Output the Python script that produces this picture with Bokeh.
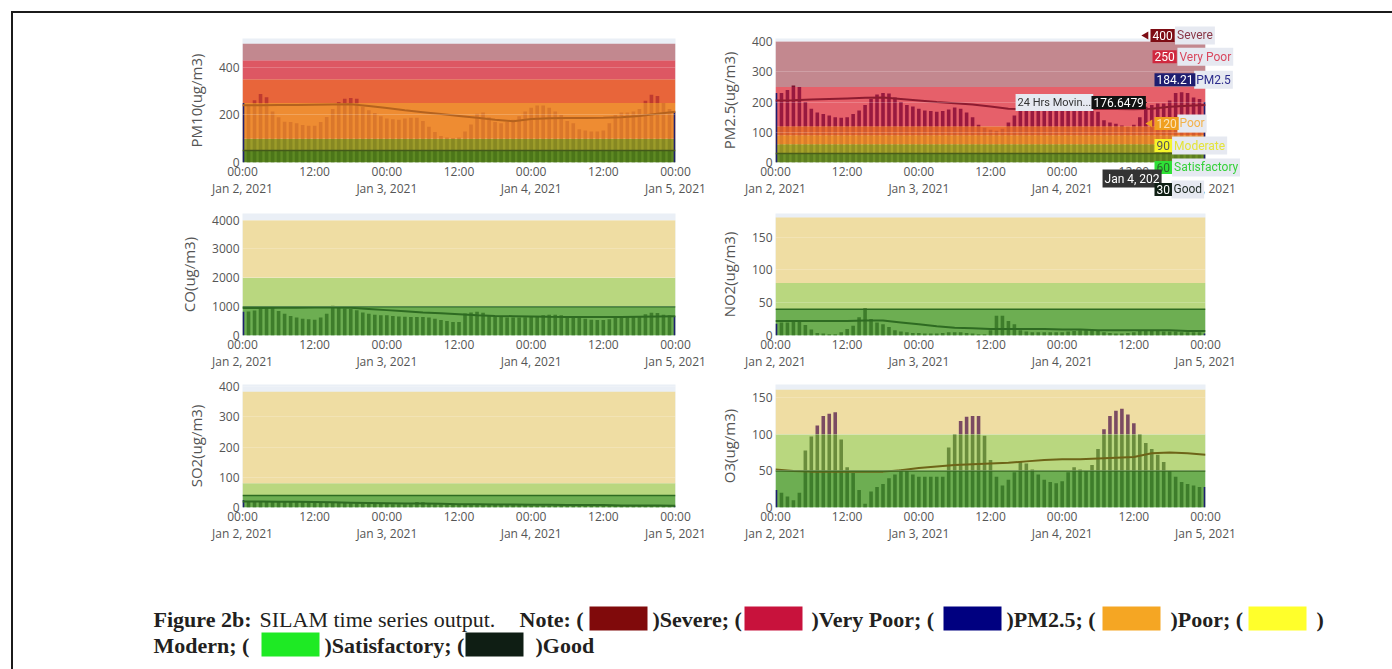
import numpy as np
import pandas as pd
from bokeh.plotting import figure
from bokeh.models import Range1d, FixedTicker, Label, Span, Div, Spacer
from bokeh.layouts import column, row
from bokeh.embed import file_html
from bokeh.resources import INLINE
from bokeh.core.properties import value

# ---------------- data ----------------
hours = pd.date_range("2021-01-02 00:00", "2021-01-05 00:00", freq="h")   # hourly values
ma_hours = hours[::3]                                                    # 24h moving average samples

pm10 = [250, 245, 262, 288, 275, 215, 190, 172, 170, 165, 158, 155,
        155, 170, 192, 225, 255, 268, 272, 268, 235, 220, 208, 195,
        185, 182, 180, 185, 188, 188, 175, 150, 128, 112, 105, 103,
        105, 130, 160, 205, 210, 190, 170, 165, 170, 180, 195, 215,
        230, 240, 240, 230, 215, 200, 175, 165, 140, 135, 130, 130,
        135, 165, 200, 210, 210, 215, 225, 260, 285, 280, 250, 225,
        215]
pm10_ma = [241, 241, 242, 242, 243, 244, 245, 238, 229, 220, 212, 204, 196,
           188, 180, 174, 183, 186, 187, 187, 188, 190, 196, 205, 214]

pm25 = [230, 230, 240, 255, 250, 200, 178, 165, 160, 155, 150, 148,
        150, 160, 172, 190, 210, 225, 230, 228, 215, 200, 190, 185,
        178, 172, 170, 168, 170, 175, 182, 178, 165, 150, 125, 115,
        108, 105, 112, 132, 155, 170, 175, 172, 170, 170, 170, 170,
        170, 170, 172, 172, 170, 170, 168, 140, 132, 128, 122, 118,
        125, 150, 184.21, 190, 195, 195, 205, 230, 232, 230, 215, 210,
        200]
pm25_ma = [205, 206, 208, 210, 212, 214, 215, 210, 205, 200, 196, 192, 185,
           178, 176, 175, 176, 176, 177, 177, 176, 178, 184, 188, 190]

co = [820, 830, 870, 950, 990, 980, 850, 750, 680, 620, 580, 560,
      550, 620, 750, 1030, 970, 940, 920, 880, 800, 750, 720, 700,
      700, 680, 660, 650, 640, 640, 640, 620, 580, 540, 500, 470,
      470, 760, 800, 820, 790, 680, 650, 640, 620, 620, 620, 630,
      640, 660, 700, 720, 720, 700, 680, 650, 620, 580, 550, 540,
      540, 560, 620, 650, 660, 660, 680, 740, 790, 780, 720, 700,
      680]
co_ma = [950, 955, 960, 965, 970, 975, 960, 920, 880, 840, 800, 770, 740,
         700, 680, 670, 660, 650, 645, 640, 640, 640, 650, 660, 670]

no2 = [18, 20, 20, 21, 21, 16, 9, 4, 3, 2, 2, 5,
       10, 15, 28, 42, 25, 20, 17, 13, 8, 6, 5, 4,
       4, 3, 3, 3, 4, 5, 5, 5, 4, 3, 2, 2,
       8, 30, 30, 22, 17, 8, 6, 5, 5, 5, 5, 5,
       5, 6, 7, 8, 8, 8, 7, 5, 4, 3, 3, 4,
       5, 7, 8, 8, 7, 6, 6, 6, 5, 5, 5, 5,
       3]
no2_ma = [22, 22, 22, 22, 22, 23, 23, 20, 17, 14, 12, 11, 10,
          10, 10, 10, 9, 9, 8, 8, 8, 8, 8, 7, 7]

so2 = [25, 20, 20, 19, 19, 20, 20, 19, 19, 18, 18, 17,
       17, 16, 16, 15, 15, 15, 14, 14, 13, 13, 12, 12,
       12, 11, 11, 11, 11, 18, 17, 12, 11, 10, 10, 10,
       9, 9, 9, 9, 8, 8, 8, 8, 8, 8, 8, 8,
       7, 7, 7, 7, 7, 8, 8, 8, 7, 7, 7, 6,
       6, 6, 6, 6, 6, 6, 5, 5, 5, 5, 5, 5,
       5]
so2_ma = [20, 20, 19, 19, 18, 17, 16, 15, 14, 13, 13, 12, 11,
          11, 10, 10, 9, 9, 8, 8, 8, 7, 7, 7, 6]

o3 = [24, 20, 15, 10, 20, 78, 97, 112, 125, 128, 130, 93,
      55, 47, 24, 5, 22, 28, 32, 40, 45, 52, 50, 45,
      42, 42, 42, 42, 42, 82, 100, 118, 124, 125, 125, 98,
      65, 42, 30, 38, 48, 63, 60, 52, 45, 38, 35, 33,
      36, 48, 55, 52, 50, 58, 80, 107, 125, 132, 135, 127,
      115, 100, 88, 80, 72, 62, 50, 42, 35, 32, 30, 28,
      28]
o3_ma = [52, 50, 49, 49, 49, 49, 49, 51, 54, 56, 58, 59, 60,
         61, 63, 65, 66, 66, 67, 68, 69, 74, 75, 74, 72]

# AQI category bounds for each pollutant
pm10_bounds = [0, 50, 100, 250, 350, 430, 500]
pm25_bounds = [0, 30, 60, 90, 120, 250, 400]
co_bounds = [0, 1000, 2000, 4000]
no2_bounds = [0, 40, 80, 180]
so2_bounds = [0, 40, 80, 383]
o3_bounds = [0, 50, 100, 161]
pm25_categories = ["Good", "Satisfactory", "Moderate", "Poor", "Very Poor", "Severe"]
pm25_hover_hour = 62
ma_hover_text = "176.6479"
x_hover_text = "Jan 4, 202"

# ---------------- style ----------------
PLOT_BG = "#EAEFF6"
NAVY = "#1E1E70"
TICK_COL = "#555555"
FONT = "Open Sans"
G_DARK, G_LIGHT, BEIGE = "#6DAE52", "#B9D77F", "#EFDDA3"
BAR_G0, BAR_G1, BAR_MOD = "#3E7D2B", "#6A8C3C", "#7B4B62"
BAR_W = 0.6 * 3600 * 1000


def to_ms(idx):
    return pd.DatetimeIndex(idx).values.astype("datetime64[ms]").astype("int64").astype(float)


x_ms = to_ms(hours)
ma_ms = to_ms(ma_hours)
t0, t1 = x_ms[0], x_ms[-1]
tick_idx = hours[::12]
tick_ms = to_ms(tick_idx)
tick_text = [t.strftime("%H:%M") + ("\n" + t.strftime("%b %-d, %Y") if t.hour == 0 else "")
             for t in tick_idx]


def make_panel(vals, ma, bounds, band_cols, bar_cols, good_col, ma_col, ylabel, yticks,
               ymax, width, height, bl, br, bt, bb):
    p = figure(width=width, height=height, x_axis_type="datetime",
               x_range=Range1d(t0, t1), y_range=Range1d(0, ymax),
               output_backend="svg", toolbar_location=None, title=None,
               min_border_left=bl, min_border_right=br, min_border_top=bt, min_border_bottom=bb,
               background_fill_color=PLOT_BG, border_fill_color="white",
               outline_line_color=None, margin=0)
    n = len(bounds) - 1
    p.quad(left=[t0] * n, right=[t1] * n, bottom=bounds[:-1], top=bounds[1:],
           fill_color=band_cols, line_color=None)
    v = np.asarray(vals, dtype=float)
    xi, vi = x_ms[1:-1], v[1:-1]
    for lo, hi, c in zip(bounds[:-1], bounds[1:], bar_cols):
        m = vi > lo
        if m.any():
            p.vbar(x=xi[m], bottom=lo, top=np.minimum(vi[m], hi), width=BAR_W,
                   fill_color=c, line_color=None)
    p.vbar(x=[x_ms[0], x_ms[-1]], bottom=0, top=[v[0], v[-1]], width=BAR_W,
           fill_color=NAVY, line_color=None)
    p.line(x=ma_ms, y=ma, line_color=ma_col, line_width=2)
    p.add_layout(Span(location=bounds[1], dimension="width", line_color=good_col, line_width=1.5))

    for ax in (p.xaxis[0], p.yaxis[0]):
        ax.axis_line_color = None
        ax.major_tick_line_color = None
        ax.minor_tick_line_color = None
        ax.major_tick_out = 0
        ax.major_tick_in = 0
        ax.major_label_text_font = FONT
        ax.major_label_text_font_size = "12px"
        ax.major_label_text_color = TICK_COL
    p.xaxis.ticker = FixedTicker(ticks=list(tick_ms))
    p.xaxis.major_label_overrides = {float(k): s for k, s in zip(tick_ms, tick_text)}
    p.xaxis.major_label_standoff = 0
    p.xaxis.major_label_text_line_height = 1.0
    p.yaxis.ticker = FixedTicker(ticks=yticks)
    p.yaxis.major_label_standoff = 3
    p.yaxis.axis_label = ylabel
    p.yaxis.axis_label_text_font = FONT
    p.yaxis.axis_label_text_font_style = "normal"
    p.yaxis.axis_label_text_font_size = "15px"
    p.yaxis.axis_label_text_color = TICK_COL
    p.yaxis.axis_label_standoff = 10
    p.xgrid.visible = False
    p.ygrid.grid_line_color = "white"
    p.ygrid.grid_line_alpha = 0.2
    p.ygrid.level = "overlay"
    return p


LW, RW = 699, 680
PM25_YMAX = 410
L1 = make_panel(pm10, pm10_ma, pm10_bounds,
                ["#5F8A23", "#9C9C2A", "#EE8C32", "#E8653A", "#DD5763", "#C2888F"],
                ["#4C7619", "#878822", "#DA772B", "#BF3A2F", "#A02A3A", "#8A2035"],
                "#44591A", "#B4621E", "PM10(ug/m3)", [0, 200, 400], 522,
                LW, 192, 229, 37, 23, 41)
R1 = make_panel(pm25, pm25_ma, pm25_bounds,
                ["#6E9128", "#A8A52A", "#EF9230", "#EB6F34", "#E6606A", "#C3888F"],
                ["#5C7E20", "#949024", "#DB7E2A", "#D25A2E", "#98193F", "#7A1530"],
                "#4A5E1A", "#8E1B30", "PM2.5(ug/m3)", [0, 100, 200, 300, 400], PM25_YMAX,
                RW, 192, 63, 187, 25, 43)
L2 = make_panel(co, co_ma, co_bounds, [G_DARK, G_LIGHT, BEIGE], [BAR_G0, BAR_G1, BAR_MOD],
                "#2E6B22", "#2E6B22", "CO(ug/m3)", [0, 1000, 2000, 3000, 4000], 4231,
                LW, 173, 229, 37, 4, 41)
R2 = make_panel(no2, no2_ma, no2_bounds, [G_DARK, G_LIGHT, BEIGE], [BAR_G0, BAR_G1, BAR_MOD],
                "#2E6B22", "#2E6B22", "NO2(ug/m3)", [0, 50, 100, 150], 186,
                RW, 173, 63, 187, 8, 43)
L3 = make_panel(so2, so2_ma, so2_bounds, [G_DARK, G_LIGHT, BEIGE], [BAR_G0, BAR_G1, BAR_MOD],
                "#2E6B22", "#2E6B22", "SO2(ug/m3)", [0, 100, 200, 300, 400], 407,
                LW, 177, 229, 37, 5, 48)
R3 = make_panel(o3, o3_ma, o3_bounds, [G_DARK, G_LIGHT, BEIGE], [BAR_G0, BAR_G1, BAR_MOD],
                "#3A6A22", "#6E6418", "O3(ug/m3)", [0, 50, 100, 150], 168,
                RW, 177, 63, 187, 6, 44)

# ---------------- hover labels of the PM2.5 panel (transparent overlay figure) ----------------
# page geometry of the PM2.5 frame and of the overlay, so both share the same data mapping
R1_LEFT, R1_TOP, R1_W, R1_H = 775, 38, 430, 124
OV_LEFT, OV_TOP, OV_W, OV_H = 1000, 20, 240, 186
ms_per_px = (t1 - t0) / R1_W
unit_per_px = PM25_YMAX / R1_H
ov = figure(width=OV_W, height=OV_H,
            x_range=Range1d(t0 + (OV_LEFT - R1_LEFT) * ms_per_px,
                            t0 + (OV_LEFT + OV_W - R1_LEFT) * ms_per_px),
            y_range=Range1d((R1_TOP + R1_H - OV_TOP - OV_H) * unit_per_px,
                            (R1_TOP + R1_H - OV_TOP) * unit_per_px),
            output_backend="svg", toolbar_location=None, title=None, min_border=0,
            x_axis_location=None, y_axis_location=None, outline_line_color=None,
            background_fill_color=None, border_fill_color=None, margin=0,
            styles={"position": "fixed", "left": f"{OV_LEFT}px", "top": f"{OV_TOP}px",
                    "z-index": "10", "pointer-events": "none"})
ov.grid.visible = False

LIGHT = "#E6E9F1"
def hx(h):
    return t0 + h * 3600 * 1000

cat_box = {"Severe": ("#7D0C14", "white", "#8A3848"),
           "Very Poor": ("#D0283F", "white", "#D9475E"),
           "Poor": ("#F0A020", "#FBE3B8", "#F3B24A"),
           "Moderate": ("#F6F62A", "#555555", "#E4E43A"),
           "Satisfactory": ("#2FE036", "#2A6A2A", "#36D13A"),
           "Good": ("#0F1F14", "white", "#1E2A22")}
# (item, value-box x in hours, name x in hours, label y in data units)
hover_rows = [("Severe", 62.79, 66.9, 420), ("Very Poor", 63.13, 67.3, 350),
              ("PM2.5", 63.46, 70.1, 274), ("Poor", 63.46, 67.3, 129),
              ("Moderate", 63.46, 66.4, 56), ("Satisfactory", 63.46, 66.4, -16.5),
              ("Good", 63.46, 66.3, -89)]


def add_label(x, y, text, bg, col, size="12px"):
    ov.add_layout(Label(x=x, y=y, text=text, text_font="Roboto", text_font_size=size,
                        text_color=col, text_baseline="middle", text_align="left",
                        background_fill_color=bg, background_fill_alpha=1.0, padding=2))


add_label(hx(40.2), 198, "24 Hrs Movin...", LIGHT, "#333333", "11px")
add_label(hx(52.91), 198, ma_hover_text, "#111111", "white")
for name, vx, nx, yv in hover_rows:
    if name == "Good":
        add_label(hx(54.76), -53, x_hover_text, "#333333", "white")
    if name == "PM2.5":
        box, txt, ncol = NAVY, "white", "#2B2B8C"
        val = f"{pm25[pm25_hover_hour]:g}"
    else:
        box, txt, ncol = cat_box[name]
        # each category label shows its upper threshold
        val = str(pm25_bounds[pm25_categories.index(name) + 1])
    add_label(hx(nx), yv, name, LIGHT, ncol)
    add_label(hx(vx), yv, val, box, txt)

# small pointers of the hover boxes
ov.scatter(x=[hx(62.04), hx(62.71)], y=[420, 129], marker="triangle", size=8,
           angle=np.pi / 2, fill_color=["#7D0C14", "#F0A020"], line_color=None)
ov.scatter(x=[hx(61.45)], y=[198], marker="triangle", size=8,
           angle=-np.pi / 2, fill_color="#111111", line_color=None)

# ---------------- caption ----------------
CAP_W, CAP_H = 1379, 114
cap = figure(width=CAP_W, height=CAP_H, x_range=Range1d(0, CAP_W), y_range=Range1d(CAP_H, 0),
             output_backend="svg", toolbar_location=None, title=None, min_border=0,
             x_axis_location=None, y_axis_location=None, outline_line_color=None, margin=0)
cap.grid.visible = False
LINE_Y = [64, 90]
cap_runs = [("Figure 2b:", 140, 0, "bold"), ("SILAM time series output.", 246, 0, "normal"),
            ("Note: (", 506, 0, "bold"), (")Severe; (", 639, 0, "bold"),
            (")Very Poor; (", 798, 0, "bold"), (")PM2.5; (", 993, 0, "bold"),
            (")Poor; (", 1157, 0, "bold"), (")", 1303, 0, "bold"),
            ("Modern; (", 140, 1, "bold"), (")Satisfactory; (", 311, 1, "bold"),
            (")Good", 522, 1, "bold")]
for style in ("bold", "normal"):
    rr = [r for r in cap_runs if r[3] == style]
    cap.text(x=[r[1] for r in rr], y=[LINE_Y[r[2]] for r in rr], text=[r[0] for r in rr],
             text_font=value("Liberation Serif"), text_font_size="22px", text_font_style=style,
             text_color="#231F20", text_baseline="middle", text_align="left")
swatches = [("#800A0B", 576, 0), ("#C8123C", 731, 0), ("#000080", 930, 0),
            ("#F5A623", 1089, 0), ("#FFFF2B", 1235, 0), ("#1EEA24", 248, 1), ("#0F1E14", 452, 1)]
cap.quad(left=[s[1] for s in swatches], right=[s[1] + 58 for s in swatches],
         top=[LINE_Y[s[2]] - 13 for s in swatches], bottom=[LINE_Y[s[2]] + 11 for s in swatches],
         fill_color=[s[0] for s in swatches], line_color=None)

# ---------------- page ----------------
body = column(row(L1, R1, margin=0), row(L2, R2, margin=0), row(L3, R3, margin=0), cap, margin=0)
top = column(Spacer(width=1392, height=11, margin=0),
             row(Spacer(width=11, height=2, margin=0),
                 Div(text="", width=1381, height=2, margin=0, styles={"background-color": "#1b1b1b"}),
                 margin=0), margin=0)
root = column(top,
              row(Spacer(width=11, height=656, margin=0),
                  Div(text="", width=2, height=656, margin=0, styles={"background-color": "#1b1b1b"}),
                  body, margin=0),
              margin=0)

open("out.html", "w").write(file_html([root, ov], INLINE))
